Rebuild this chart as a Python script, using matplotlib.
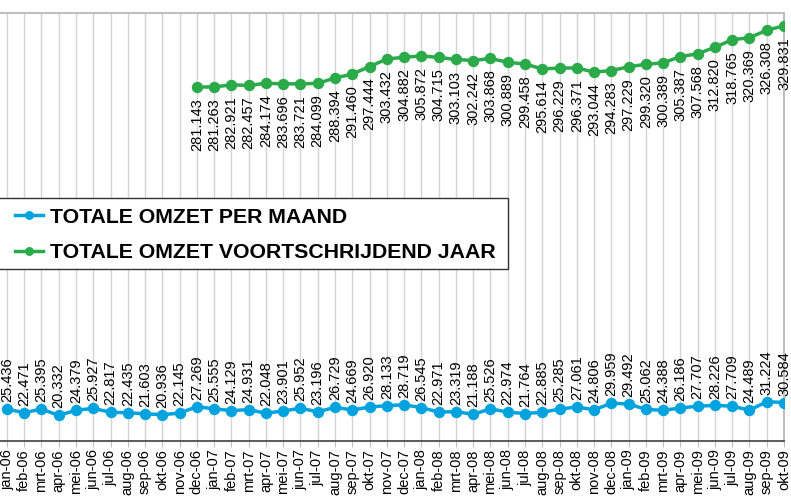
import matplotlib
matplotlib.use("Agg")
import matplotlib.pyplot as plt
from matplotlib.patches import Rectangle

plt.rcParams["font.family"] = ["Liberation Sans", "DejaVu Sans"]

# ---------------------------------------------------------------------------
# Data
# ---------------------------------------------------------------------------
months = ["jan", "feb", "mrt", "apr", "mei", "jun", "jul", "aug", "sep", "okt", "nov", "dec"]
categories = [f"{m}-{y:02d}" for y in range(6, 10) for m in months][:46]

omzet_maand = [25.436, 22.471, 25.395, 20.332, 24.379, 25.927, 22.817, 22.435,
               21.603, 20.936, 22.145, 27.269, 25.555, 24.129, 24.931, 22.048,
               23.901, 25.952, 23.196, 26.729, 24.669, 26.920, 28.133, 28.719,
               26.545, 22.971, 23.319, 21.188, 25.526, 22.974, 21.764, 22.885,
               25.285, 27.061, 24.806, 29.959, 29.492, 25.062, 24.388, 26.186,
               27.707, 28.226, 27.709, 24.489, 31.224, 30.584]

# rolling year starts at dec-06
jaar_start = 11
omzet_jaar = [281.143, 281.263, 282.921, 282.457, 284.174, 283.696, 283.721,
              284.099, 288.394, 291.460, 297.444, 303.432, 304.882, 305.872,
              304.715, 303.103, 302.242, 303.868, 300.889, 299.458, 295.614,
              296.229, 296.371, 293.044, 294.283, 297.229, 299.320, 300.389,
              305.387, 307.568, 312.820, 318.765, 320.369, 326.308, 329.831]

BLUE = "#00a3dd"
GREEN = "#2aaa48"


def fmt(v):
    return f"{v:.3f}"


fig = plt.figure(figsize=(7.91, 4.98), dpi=100)
ax = fig.add_axes([0.0, 1 - 441 / 498, 784 / 791, (441 - 13) / 498])

x_maand = list(range(len(omzet_maand)))
x_jaar = list(range(jaar_start, jaar_start + len(omzet_jaar)))

ax.plot(x_maand, omzet_maand, color=BLUE, lw=2.5, marker="o", ms=7.2,
        label="TOTALE OMZET PER MAAND", zorder=3)
ax.plot(x_jaar, omzet_jaar, color=GREEN, lw=2.5, marker="o", ms=7.2,
        label="TOTALE OMZET VOORTSCHRIJDEND JAAR", zorder=3)

# data labels
for x, v in zip(x_maand, omzet_maand):
    ax.annotate(fmt(v), (x, v), xytext=(0, 5), textcoords="offset points",
                rotation=90, ha="center", va="bottom", fontsize=10.5)
for x, v in zip(x_jaar, omzet_jaar):
    ax.annotate(fmt(v), (x, v), xytext=(0, -8), textcoords="offset points",
                rotation=90, ha="center", va="top", fontsize=10.5)

ax.set_xlim(-0.4, len(categories) - 1)
ax.set_ylim(0, 340)
ax.set_xticks(range(len(categories)))
ax.set_xticklabels(categories, rotation=90, fontsize=10.5)
ax.tick_params(axis="x", length=4, color="#bfbfbf", pad=2)
ax.set_yticks([])
ax.grid(axis="x", color="#d4d4d4", lw=1)
ax.set_axisbelow(True)

ax.spines["left"].set_visible(False)
for s in ("top", "right"):
    ax.spines[s].set_color("#bfbfbf")
    ax.spines[s].set_linewidth(1.5)
ax.spines["bottom"].set_color("#404040")
ax.spines["bottom"].set_linewidth(1.2)

# legend without its own frame; box drawn separately so its left edge runs off the figure
leg = ax.legend(loc="upper left", bbox_to_anchor=(0, 1 - 193 / 498),
                bbox_transform=fig.transFigure, frameon=False,
                prop={"weight": "bold", "size": 15.3},
                handlelength=1.3, handletextpad=0.35, borderpad=0.2,
                labelspacing=0.78, markerscale=0.75)
leg.set_zorder(6)
box = Rectangle((-5 / 791, 1 - 269 / 498), 513 / 791, 71 / 498,
                transform=fig.transFigure, facecolor="white",
                edgecolor="#333333", lw=1.0, zorder=5, clip_on=False)
ax.add_patch(box)

fig.savefig("out.png", dpi=100)
